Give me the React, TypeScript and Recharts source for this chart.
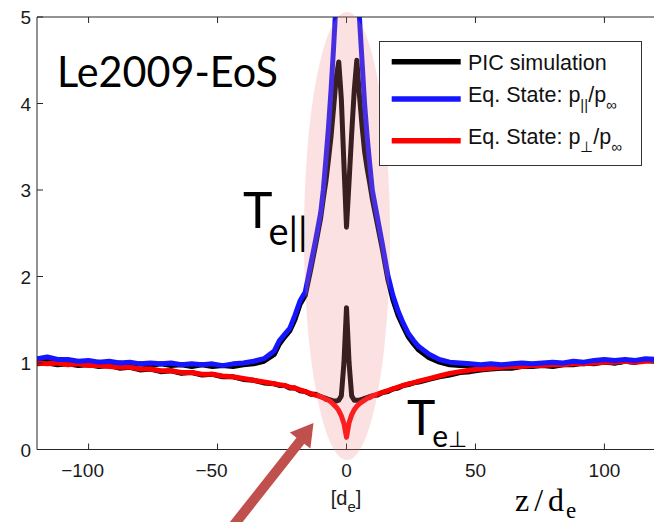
import { Legend, Line, LineChart, XAxis, YAxis } from "recharts";

// z / d_e sample positions (denser near the current sheet)
const zPos = [
  -120, -116, -112, -108, -104, -100, -96, -92, -88, -84,
  -80, -76, -72, -68, -64, -60, -56, -52, -48, -44,
  -40, -36, -32, -28, -26, -24, -22, -20, -18, -16,
  -14, -12, -10, -9, -8, -7, -6, -5, -4, -3,
  -2, -1, 0, 1, 2, 3, 4, 5, 6, 7,
  8, 9, 10, 12, 14, 16, 18, 20, 22, 24,
  26, 28, 32, 36, 40, 44, 48, 52, 56, 60,
  64, 68, 72, 76, 80, 84, 88, 92, 96, 100,
  104, 108, 112, 116, 120,
];

// PIC T_e|| (black)
const picPar = [
  1.03, 1.05, 1.02, 1.0, 1.01, 0.99, 1.01, 0.98, 1.0, 0.98,
  0.99, 0.97, 0.99, 0.97, 0.98, 0.96, 0.98, 0.96, 0.97, 0.96,
  0.98, 0.99, 1.02, 1.1, 1.22, 1.3, 1.37, 1.5, 1.68, 1.78,
  2.06, 2.36, 2.68, 2.9, 3.1, 3.35, 3.62, 3.95, 4.3, 4.48,
  4.05, 3.3, 2.57, 3.1, 3.65, 4.15, 4.5, 4.1, 3.75, 3.45,
  3.25, 3.08, 2.9, 2.6, 2.3, 1.97, 1.73, 1.55, 1.42, 1.3,
  1.22, 1.15, 1.06, 1.01, 0.98, 0.97, 0.97, 0.95, 0.97, 0.96,
  0.97, 0.98, 0.97, 0.99, 0.98, 0.99, 1.0, 0.99, 1.01, 1.02,
  1.0, 1.02, 1.01, 1.03, 1.02,
];

// PIC T_e⊥ (black)
const picPerp = [
  0.99, 1.0, 0.98, 0.99, 0.97, 0.98, 0.96, 0.97, 0.94, 0.95,
  0.92, 0.93, 0.9, 0.91, 0.88, 0.89, 0.86, 0.87, 0.84, 0.84,
  0.81, 0.8, 0.77, 0.76, 0.74, 0.74, 0.71, 0.71, 0.68, 0.67,
  0.64, 0.64, 0.61, 0.6, 0.59, 0.58, 0.57, 0.56, 0.56, 0.57,
  0.62, 1.0, 1.64, 1.0, 0.62, 0.57, 0.57, 0.57, 0.58, 0.59,
  0.6, 0.61, 0.62, 0.63, 0.66, 0.67, 0.7, 0.71, 0.74, 0.75,
  0.77, 0.78, 0.81, 0.84, 0.86, 0.89, 0.9, 0.92, 0.93, 0.94,
  0.94, 0.96, 0.96, 0.97, 0.96, 0.98, 0.98, 1.0, 0.99, 1.01,
  1.0, 1.02, 1.01, 1.03, 1.02,
];

// Eq. State p||/p∞ (blue)
const eosPar = [
  1.05, 1.07, 1.04, 1.04, 1.02, 1.03, 1.01, 1.02, 1.0, 1.01,
  0.99, 1.0, 0.99, 1.0, 0.98, 0.99, 0.98, 0.99, 0.97, 0.99,
  1.0, 1.02, 1.05, 1.14, 1.26, 1.33, 1.4, 1.55, 1.72, 1.82,
  2.12, 2.42, 2.74, 3.0, 3.35, 3.72, 4.15, 4.65, 5.2, 5.7,
  6.1, 6.4, 6.5, 6.4, 6.1, 5.7, 5.35, 5.0, 4.5, 4.0,
  3.62, 3.3, 3.0, 2.68, 2.36, 2.02, 1.78, 1.6, 1.46, 1.34,
  1.26, 1.19, 1.1, 1.04, 1.01, 1.0, 0.99, 0.98, 0.99, 0.98,
  0.99, 1.0, 0.99, 1.0, 1.01, 1.0, 1.02, 1.01, 1.03, 1.04,
  1.03, 1.04, 1.03, 1.05, 1.04,
];

// Eq. State p⊥/p∞ (red)
const eosPerp = [
  1.0, 0.99, 1.0, 0.98, 0.99, 0.97, 0.97, 0.96, 0.95, 0.95,
  0.93, 0.93, 0.91, 0.91, 0.89, 0.89, 0.87, 0.87, 0.85, 0.84,
  0.82, 0.8, 0.78, 0.76, 0.75, 0.74, 0.72, 0.71, 0.69, 0.67,
  0.65, 0.63, 0.61, 0.6, 0.58, 0.57, 0.55, 0.52, 0.49, 0.45,
  0.39, 0.3, 0.14, 0.31, 0.4, 0.46, 0.5, 0.53, 0.55, 0.57,
  0.59, 0.6, 0.62, 0.64, 0.66, 0.68, 0.7, 0.72, 0.74, 0.76,
  0.77, 0.79, 0.82, 0.85, 0.88, 0.9, 0.92, 0.93, 0.94, 0.95,
  0.96, 0.96, 0.97, 0.97, 0.98, 0.98, 0.99, 0.99, 1.0, 1.01,
  1.01, 1.02, 1.01, 1.02, 1.03,
];

const xTicks = [-100, -50, 0, 50, 100];
const yTicks = [0, 1, 2, 3, 4, 5];

const data = zPos.map((z, i) => ({
  z,
  picPar: picPar[i],
  picPerp: picPerp[i],
  eosPar: eosPar[i],
  eosPerp: eosPerp[i],
}));

const AXIS = "#262626";
const SANS = "'Liberation Sans', Arial, sans-serif";
const CAL = "Lato, 'Open Sans', sans-serif";
const SERIF = "'Liberation Serif', 'Times New Roman', serif";

function BottomTick({ x, y, payload }: any) {
  const v = payload.value;
  const label = v < 0 ? `\u2212${Math.abs(v)}` : `${v}`;
  return (
    <g>
      <line x1={x} y1={y} x2={x} y2={y - 6} stroke={AXIS} />
      <text x={v < 0 ? x - 6 : x} y={y + 27} textAnchor="middle" fontSize={19} fontFamily={SANS} fill="#1a1a1a">
        {label}
      </text>
    </g>
  );
}

function TopTick({ x, y }: any) {
  return <line x1={x} y1={y} x2={x} y2={y + 6} stroke={AXIS} />;
}

function LeftTick({ x, y, payload }: any) {
  return (
    <g>
      <line x1={x} y1={y} x2={x + 6} y2={y} stroke={AXIS} />
      <text x={x - 6} y={y + 7} textAnchor="end" fontSize={19} fontFamily={SANS} fill="#1a1a1a">
        {payload.value}
      </text>
    </g>
  );
}

function RightTick({ x, y }: any) {
  return <line x1={x} y1={y} x2={x - 6} y2={y} stroke={AXIS} />;
}

const legendRows = [
  { key: "picPar", lineY: 20.7, base: 29, main: "PIC simulation", sub: "" },
  { key: "eosPar", lineY: 58, base: 61, main: "Eq. State: p", sub: "||" },
  { key: "eosPerp", lineY: 99.7, base: 103, main: "Eq. State: p", sub: "\u22a5" },
];

function LegendBox({ payload }: any) {
  const colorOf = (k: string) => payload?.find((p: any) => p.dataKey === k)?.color ?? "#000";
  return (
    <svg width={263} height={125} style={{ display: "block" }}>
      <rect x={0.5} y={0.5} width={262} height={124} fill="#fff" stroke="#333" />
      {legendRows.map((r) => (
        <g key={r.key}>
          <line x1={12.7} y1={r.lineY} x2={81.7} y2={r.lineY} stroke={colorOf(r.key)} strokeWidth={5.5} />
          <text x={89} y={r.base} fontSize={21.5} fontFamily={SANS} fill="#111">
            {r.main}
            {r.sub && (
              <>
                <tspan fontSize={15} dy={8}>{r.sub}</tspan>
                <tspan dy={-8}>/p</tspan>
                <tspan fontSize={15} dy={8}>{"\u221e"}</tspan>
              </>
            )}
          </text>
        </g>
      ))}
    </svg>
  );
}

export default function App() {
  return (
    <div style={{ position: "absolute", left: 0, top: 0, width: 654, height: 522, overflow: "hidden", background: "#fff" }}>
      <LineChart width={658} height={522} data={data} margin={{ top: 16, right: 0, bottom: 42.5, left: 0 }}>
        <XAxis
          dataKey="z"
          type="number"
          domain={[-120, 120]}
          ticks={xTicks}
          allowDataOverflow
          height={30}
          stroke={AXIS}
          tickLine={false}
          tickSize={0}
          tickMargin={0}
          tick={<BottomTick />}
        />
        <XAxis
          xAxisId="top"
          orientation="top"
          dataKey="z"
          type="number"
          domain={[-120, 120]}
          ticks={xTicks}
          height={1}
          stroke={AXIS}
          tickLine={false}
          tickSize={0}
          tickMargin={0}
          tick={<TopTick />}
        />
        <YAxis
          type="number"
          domain={[0, 5]}
          ticks={yTicks}
          allowDataOverflow
          width={37}
          stroke={AXIS}
          tickLine={false}
          tickSize={0}
          tickMargin={0}
          tick={<LeftTick />}
        />
        <YAxis
          yAxisId="right"
          orientation="right"
          type="number"
          domain={[0, 5]}
          ticks={yTicks}
          width={2}
          stroke={AXIS}
          tickLine={false}
          tickSize={0}
          tickMargin={0}
          tick={<RightTick />}
        />
        <Line dataKey="picPar" name="PIC simulation" stroke="#000" strokeWidth={5} dot={false} type="linear" strokeLinejoin="round" isAnimationActive={false} />
        <Line dataKey="picPerp" stroke="#000" strokeWidth={5} dot={false} type="linear" strokeLinejoin="round" legendType="none" isAnimationActive={false} />
        <Line dataKey="eosPerp" name="Eq. State: p⊥/p∞" stroke="#ff0000" strokeWidth={5} dot={false} type="linear" strokeLinejoin="round" isAnimationActive={false} />
        <Line dataKey="eosPar" name="Eq. State: p||/p∞" stroke="#1515ff" strokeWidth={5} dot={false} type="linear" strokeLinejoin="round" isAnimationActive={false} />
        <Legend
          layout="vertical"
          align="center"
          verticalAlign="middle"
          content={<LegendBox />}
          wrapperStyle={{ left: 379, top: 41, width: 263, height: 125, zIndex: 3 }}
        />
      </LineChart>
      <svg
        width={654}
        height={522}
        style={{ position: "absolute", left: 0, top: 0, zIndex: 2, pointerEvents: "none" }}
      >
        <ellipse cx={347} cy={236} rx={43} ry={224} fill="#f08080" fillOpacity={0.24} />
        <text x={57} y={87} fontSize={42} fontFamily={CAL} fill="#000" textLength={221} lengthAdjust="spacingAndGlyphs">
          Le2009-EoS
        </text>
        <text x={243} y={228} fontSize={50} fontFamily={CAL} fill="#000">
          T<tspan fontSize={38} dy={17} dx={-4}>e||</tspan>
        </text>
        <text x={407} y={435} fontSize={48} fontFamily={CAL} fill="#000">
          T<tspan fontSize={30} dy={12} dx={-3}>e</tspan>
          <tspan fontSize={22}>{"\u22a5"}</tspan>
        </text>
        <text x={346} y={505} textAnchor="middle" fontSize={20} fontFamily={SANS} fill="#1a1a1a">
          [d<tspan fontSize={15} dy={7}>e</tspan>
          <tspan dy={-7}>]</tspan>
        </text>
        <text x={515} y={511} fontSize={32} fontFamily={SERIF} fill="#000" textLength={49} lengthAdjust="spacing">
          z/d
        </text>
        <text x={566} y={518} fontSize={23} fontFamily={SERIF} fill="#000">
          e
        </text>
        <line x1={226} y1={535} x2={301} y2={440} stroke="#c0504d" strokeWidth={10} />
        <polygon points="313.5,423 289.8,432.6 310.4,448.4" fill="#c0504d" />
      </svg>
    </div>
  );
}
